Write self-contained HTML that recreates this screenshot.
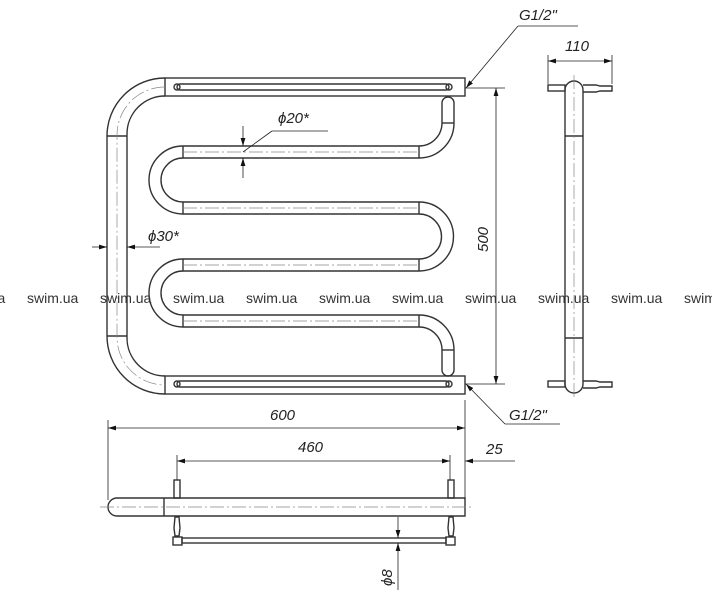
<!DOCTYPE html>
<html><head><meta charset="utf-8"><style>
html,body{margin:0;padding:0;background:#fff;}
svg{display:block;}
text{font-family:"Liberation Sans",sans-serif;}
.d{font-style:italic;font-size:15px;fill:#222;}
.w{font-size:14px;fill:#333;}
</style></head><body>
<svg width="712" height="600" viewBox="0 0 712 600" xmlns="http://www.w3.org/2000/svg">
<defs>
<marker id="a" viewBox="0 0 10 6" refX="10" refY="3" markerWidth="10" markerHeight="6" orient="auto-start-reverse"><path d="M0,0L10,3L0,6Z" fill="#111"/></marker>
</defs>
<g fill="none" stroke="#333" stroke-width="1.4">
<path d="M165,78 A58,58 0 0 0 107,136 V336 A58,58 0 0 0 165,394"/>
<path d="M165,96 A38,38 0 0 0 127,134 V338 A38,38 0 0 0 165,376"/>
<line x1="107" y1="136" x2="127" y2="136"/><line x1="107" y1="336" x2="127" y2="336"/>
<rect x="165" y="78" width="300" height="18"/>
<rect x="165" y="376" width="300" height="18"/>
<rect x="177" y="84" width="272" height="6" rx="3"/>
<rect x="177" y="381" width="272" height="6" rx="3"/>
<circle cx="177" cy="87" r="3"/><circle cx="449" cy="87" r="3"/>
<circle cx="177" cy="384" r="3"/><circle cx="449" cy="384" r="3"/>
<line x1="183" y1="146" x2="419" y2="146"/><line x1="183" y1="158" x2="419" y2="158"/>
<line x1="183" y1="202" x2="419" y2="202"/><line x1="183" y1="214" x2="419" y2="214"/>
<line x1="183" y1="259" x2="419" y2="259"/><line x1="183" y1="271" x2="419" y2="271"/>
<line x1="183" y1="315" x2="419" y2="315"/><line x1="183" y1="327" x2="419" y2="327"/>
<line x1="183" y1="146" x2="183" y2="158"/><line x1="183" y1="202" x2="183" y2="214"/>
<line x1="183" y1="259" x2="183" y2="271"/><line x1="183" y1="315" x2="183" y2="327"/>
<line x1="419" y1="146" x2="419" y2="158"/><line x1="419" y1="202" x2="419" y2="214"/>
<line x1="419" y1="259" x2="419" y2="271"/><line x1="419" y1="315" x2="419" y2="327"/>
<path d="M183,146 A34,34 0 0 0 183,214"/><path d="M183,158 A22,22 0 0 0 183,202"/>
<path d="M183,259 A34,34 0 0 0 183,327"/><path d="M183,271 A22,22 0 0 0 183,315"/>
<path d="M419,202 A34,34 0 0 1 419,271"/><path d="M419,214 A22,22 0 0 1 419,259"/>
<path d="M419,158 A35,35 0 0 0 454,123 V103 A6,6 0 0 0 442,103 V123 A23,23 0 0 1 419,146"/>
<line x1="442" y1="123" x2="454" y2="123"/>
<path d="M419,315 A35,35 0 0 1 454,350 V370 A6,6 0 0 1 442,370 V350 A23,23 0 0 0 419,327"/>
<line x1="442" y1="350" x2="454" y2="350"/>
<path d="M565,90 A9,9 0 0 1 583,90 V384 A9,9 0 0 1 565,384 Z"/>
<line x1="565" y1="136" x2="583" y2="136"/><line x1="565" y1="338" x2="583" y2="338"/>
<rect x="548" y="85" width="17" height="6"/><rect x="548" y="381" width="17" height="6"/>
<path d="M583,85 H596 L600,86 H612 V91 H600 L596,92 H583"/>
<path d="M583,381 H596 L600,382 H612 V387 H600 L596,388 H583"/>
<path d="M164,498 H465 V516 H117 A9,9 0 0 1 117,498 H164 V516"/>
<rect x="174" y="480" width="6" height="18"/><rect x="448" y="480" width="6" height="18"/>
<path d="M175,517 H179 L180,528 L179,536 H175 L174,528 Z"/><path d="M449,517 H453 L454,528 L453,536 H449 L448,528 Z"/>
<rect x="173" y="537" width="9" height="8"/><rect x="446" y="537" width="9" height="8"/>
<rect x="182" y="538" width="264" height="5"/>
</g>
<g stroke="#888" stroke-width="0.7" fill="none" stroke-dasharray="14,3,2,3">
<path d="M165,87 A48,48 0 0 0 117,135 V337 A48,48 0 0 0 165,385"/>
<line x1="183" y1="152" x2="419" y2="152"/><line x1="183" y1="208" x2="419" y2="208"/>
<line x1="183" y1="265" x2="419" y2="265"/><line x1="183" y1="321" x2="419" y2="321"/>
<line x1="574" y1="75" x2="574" y2="398"/>
<line x1="100" y1="507" x2="472" y2="507"/>
</g>
<g stroke="#222" stroke-width="0.8" fill="none">
<line x1="465" y1="88" x2="505" y2="88"/><line x1="465" y1="384" x2="505" y2="384"/>
<line x1="496" y1="88" x2="496" y2="384" marker-start="url(#a)" marker-end="url(#a)"/>
<line x1="108" y1="420" x2="108" y2="500"/><line x1="465" y1="400" x2="465" y2="500"/>
<line x1="108" y1="428" x2="465" y2="428" marker-start="url(#a)" marker-end="url(#a)"/>
<line x1="177" y1="455" x2="177" y2="480"/><line x1="450" y1="455" x2="450" y2="480"/>
<line x1="177" y1="461" x2="450" y2="461" marker-start="url(#a)" marker-end="url(#a)"/>
<line x1="465" y1="461" x2="515" y2="461" marker-start="url(#a)"/>
<line x1="548" y1="55" x2="548" y2="84"/><line x1="612" y1="55" x2="612" y2="84"/>
<line x1="548" y1="61" x2="612" y2="61" marker-start="url(#a)" marker-end="url(#a)"/>
<line x1="466" y1="88" x2="518" y2="26" marker-start="url(#a)"/><line x1="518" y1="26" x2="578" y2="26"/>
<line x1="466" y1="384" x2="505" y2="424" marker-start="url(#a)"/><line x1="505" y1="424" x2="560" y2="424"/>
<line x1="243" y1="126" x2="243" y2="146" marker-end="url(#a)"/><line x1="243" y1="178" x2="243" y2="158" marker-end="url(#a)"/>
<line x1="243" y1="152" x2="272" y2="131"/><line x1="272" y1="131" x2="328" y2="131"/>
<line x1="92" y1="247" x2="107" y2="247" marker-end="url(#a)"/><line x1="160" y1="247" x2="127" y2="247" marker-end="url(#a)"/>
<line x1="398" y1="517" x2="398" y2="538" marker-end="url(#a)"/><line x1="398" y1="590" x2="398" y2="543" marker-end="url(#a)"/>
</g>
<g class="d">
<text x="519" y="20">G1/2"</text>
<text x="509" y="420">G1/2"</text>
<text x="565" y="51">110</text>
<text x="270" y="420">600</text>
<text x="298" y="452">460</text>
<text x="486" y="454">25</text>
<text x="278" y="123">ϕ20*</text>
<text x="148" y="241">ϕ30*</text>
<text transform="translate(488,252) rotate(-90)">500</text>
<text transform="translate(392,586) rotate(-90)">ϕ8</text>
</g>
<g class="w">
<text x="-46" y="303">swim.ua</text><text x="27" y="303">swim.ua</text><text x="100" y="303">swim.ua</text><text x="173" y="303">swim.ua</text><text x="246" y="303">swim.ua</text><text x="319" y="303">swim.ua</text><text x="392" y="303">swim.ua</text><text x="465" y="303">swim.ua</text><text x="538" y="303">swim.ua</text><text x="611" y="303">swim.ua</text><text x="684" y="303">swim.ua</text>
</g>
</svg>
</body></html>
